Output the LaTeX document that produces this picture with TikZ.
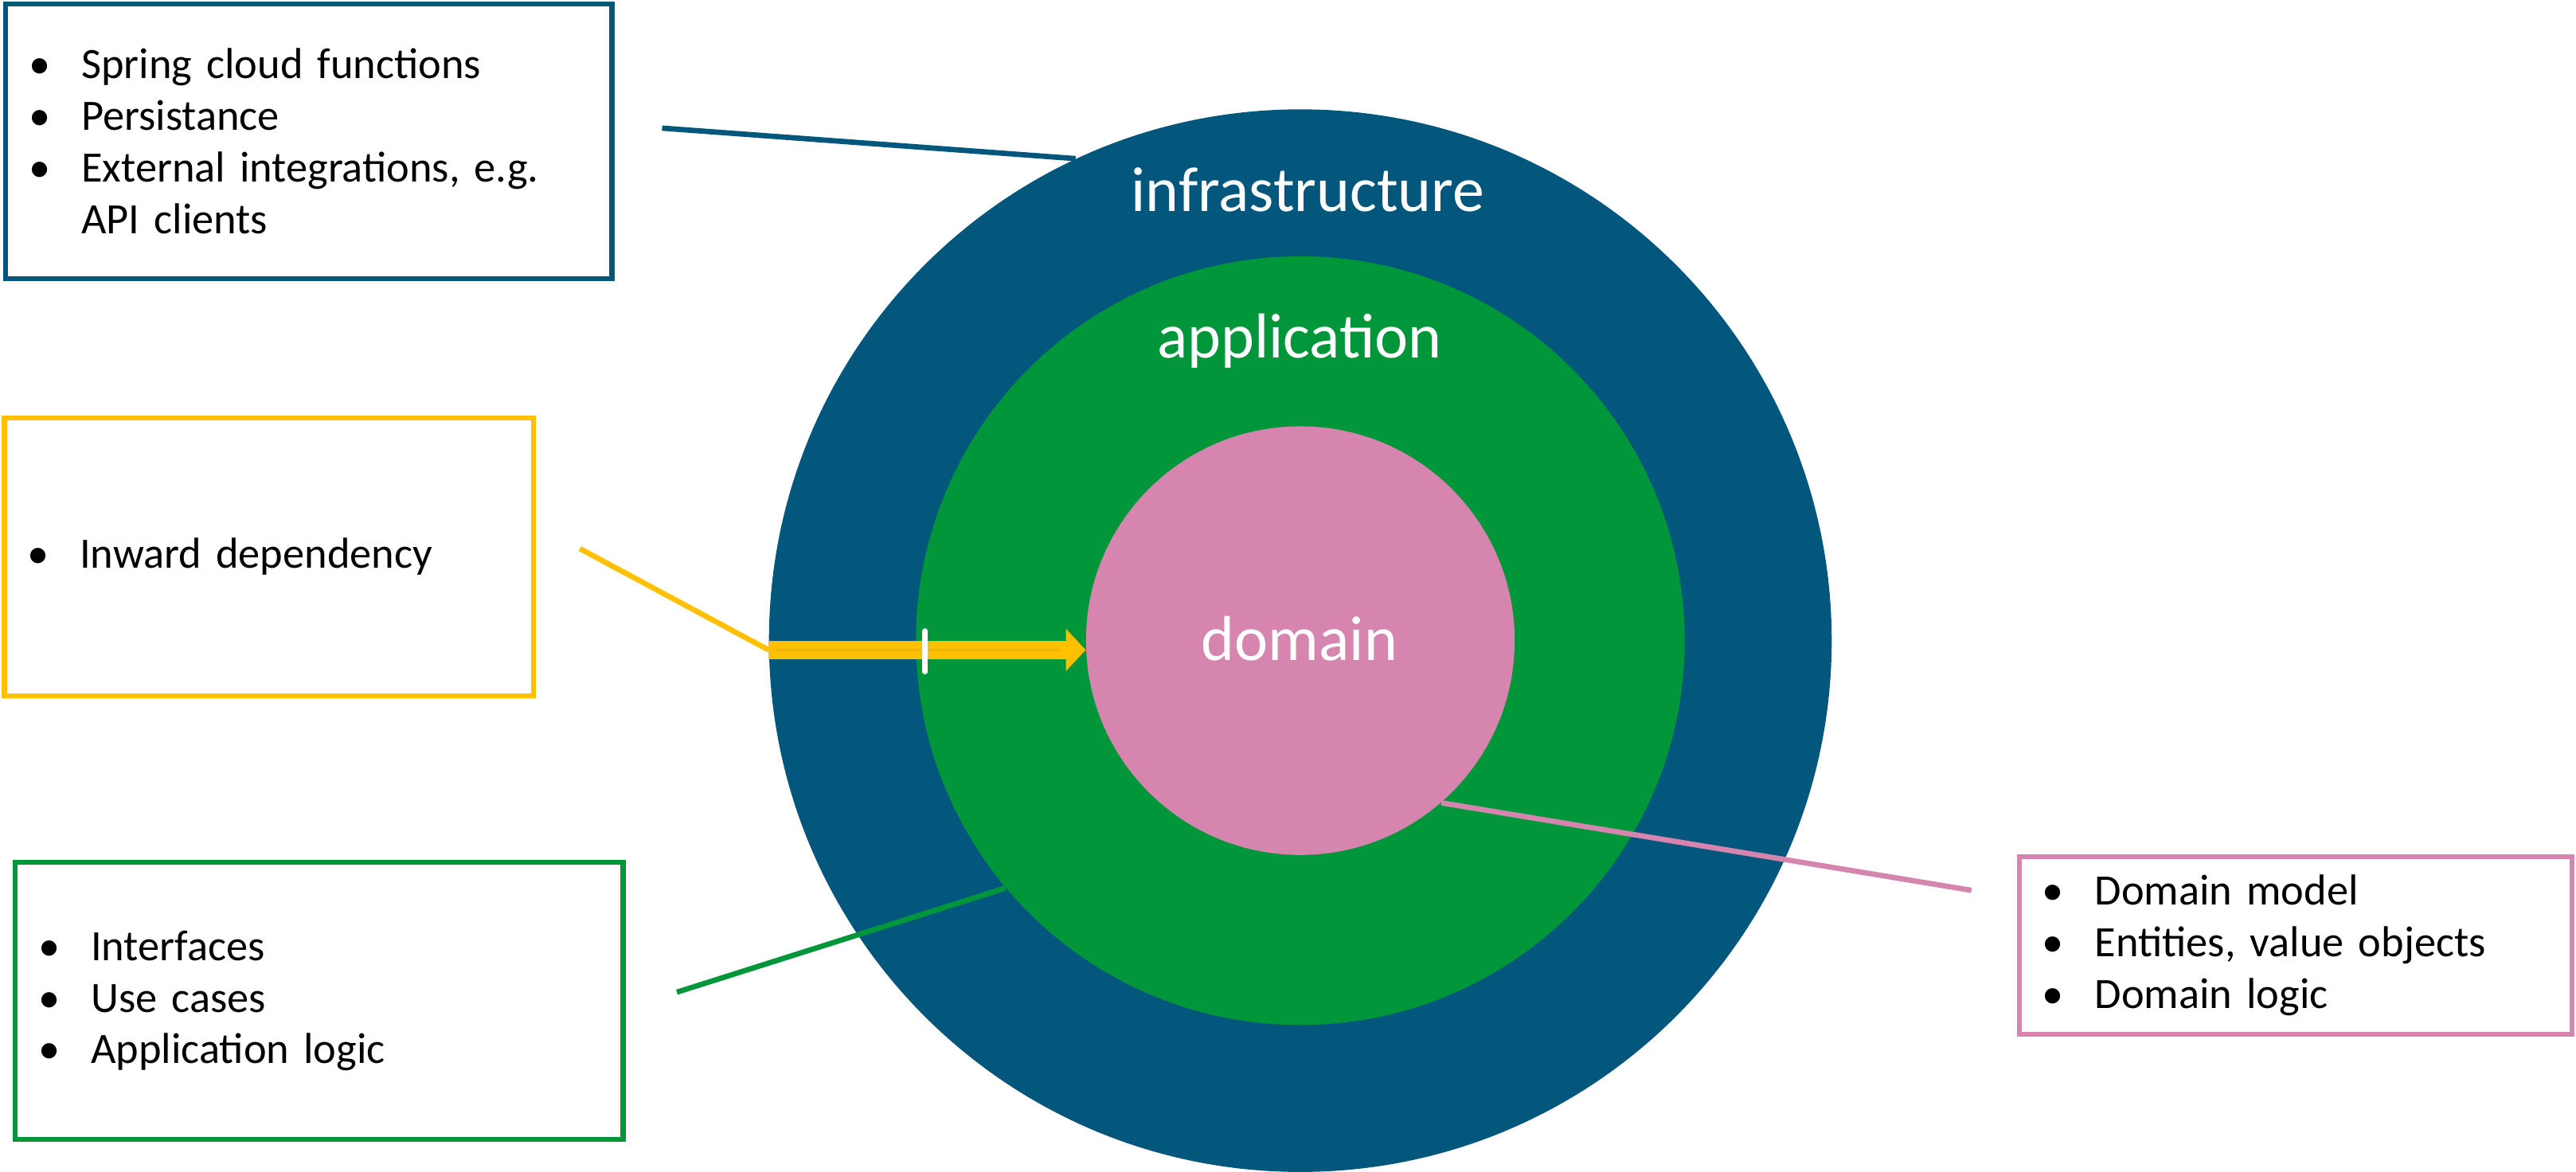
\documentclass[tikz,border=0pt]{standalone}
\usepackage{fontspec}
\setmainfont{Carlito}
\usetikzlibrary{arrows.meta}

\definecolor{infrablue}{RGB}{4,87,124}
\definecolor{appgreen}{RGB}{0,150,57}
\definecolor{dompink}{RGB}{214,133,174}
\definecolor{depyellow}{RGB}{255,192,0}
\definecolor{depshade}{RGB}{238,182,14}

\newcommand{\bpoint}[1]{\makebox[0.64cm][l]{\textbullet}#1}
\newcommand{\bcont}[1]{\hspace*{0.64cm}#1}

\begin{document}
\begin{tikzpicture}[x=0.02cm, y=-0.02cm,
    layer/.style={circle, inner sep=0pt},
    layerlabel/.style={text=white, font=\fontsize{22pt}{26pt}\selectfont, anchor=base},
    notebox/.style={rectangle, draw, line width=0.06cm, fill=white, inner xsep=0.28cm, inner ysep=0pt, align=left, font=\fontsize{15pt}{17.9pt}\selectfont},
    leader/.style={line width=0.065cm}]
    \useasboundingbox (0,0) rectangle (1568,713);

    % Layers
    \node (infra) [layer, fill=infrablue, minimum size=12.94cm] at (791.5,390) {};
    \node (app) [layer, fill=appgreen, minimum size=9.36cm] at (791.5,390) {};
    \node (dom) [layer, fill=dompink, minimum size=5.22cm] at (791.5,390) {};

    % Layer names
    \node (infralbl) [layerlabel] at (796,128.5) {infrastructure};
    \node (applbl) [layerlabel] at (791,218) {application};
    \node (domlbl) [layerlabel] at (791,402) {domain};

    % Notes
    \node (infranote) [notebox, draw=infrablue, minimum width=7.38cm, minimum height=3.34cm, text width=6.82cm] at (188,86)
        {\bpoint{Spring cloud functions}\\ \bpoint{Persistance}\\ \bpoint{External integrations, e.g.}\\ \bcont{API clients}};
    \node (depnote) [notebox, draw=depyellow, minimum width=6.44cm, minimum height=3.38cm, text width=5.88cm] at (163.6,339)
        {\bpoint{Inward dependency}};
    \node (appnote) [notebox, draw=appgreen, minimum width=7.4cm, minimum height=3.37cm, text width=6.84cm] at (194.3,609.3)
        {\bpoint{Interfaces}\\ \bpoint{Use cases}\\ \bpoint{Application logic}};
    \node (domnote) [notebox, draw=dompink, minimum width=6.73cm, minimum height=2.16cm, text width=6.17cm] at (1397.3,575.5)
        {\bpoint{Domain model}\\ \bpoint{Entities, value objects}\\ \bpoint{Domain logic}};

    % Leader ends
    \coordinate (infratail) at (403,78);
    \coordinate (deptail) at (353,334);
    \coordinate (apptail) at (412,604);
    \coordinate (domtail) at (1200,542);

    % Leaders
    \draw[leader, infrablue] (infratail) -- (infra.115);
    \draw[leader, depyellow] (deptail) -- (infra.181);
    \draw[leader, appgreen] (apptail) -- (app.220);
    \draw[leader, dompink] (dom.-49) -- (domtail);

    % Dependency arrow
    \draw[depyellow, line width=0.22cm, -{Triangle[length=0.24cm, width=0.5cm]}] (infra.181) -- (dom.183 |- infra.181);
    \draw[depshade, line width=0.03cm, line cap=round] ([xshift=3pt]infra.181) -- ([xshift=-9pt]dom.183 |- infra.181);
    \draw[white, line width=0.06cm, line cap=round] (563,384) -- (563,409);
\end{tikzpicture}
\end{document}
